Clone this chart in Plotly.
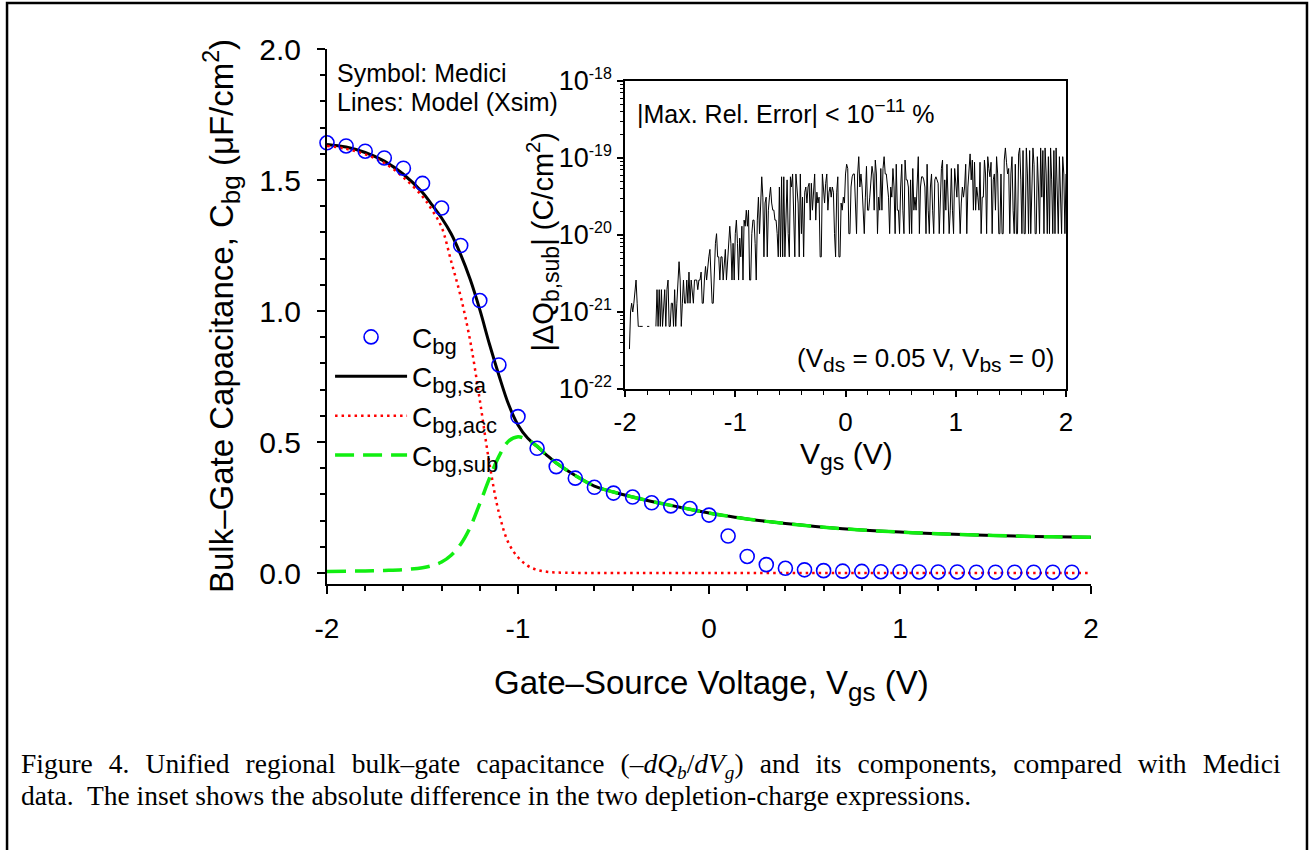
import numpy as np
import plotly.graph_objects as go

# ---------------- main plot data ----------------
vgs_medici = [-2.0, -1.9, -1.8, -1.7, -1.6, -1.5, -1.4, -1.3, -1.2, -1.1,
              -1.0, -0.9, -0.8, -0.7, -0.6, -0.5, -0.4, -0.3, -0.2, -0.1,
              0.0, 0.1, 0.2, 0.3, 0.4, 0.5, 0.6, 0.7, 0.8, 0.9,
              1.0, 1.1, 1.2, 1.3, 1.4, 1.5, 1.6, 1.7, 1.8, 1.9]
cbg_medici = [1.642, 1.630, 1.610, 1.584, 1.545, 1.487, 1.393, 1.250, 1.040, 0.794,
              0.597, 0.476, 0.406, 0.362, 0.327, 0.305, 0.290, 0.268, 0.256, 0.246,
              0.221, 0.141, 0.063, 0.032, 0.018, 0.012, 0.009, 0.007, 0.006, 0.005,
              0.005, 0.004, 0.004, 0.004, 0.003, 0.003, 0.003, 0.003, 0.003, 0.003]

vgs_sa = [-2.0, -1.9, -1.8, -1.7, -1.6, -1.5, -1.45, -1.4, -1.35, -1.3, -1.25, -1.2,
          -1.15, -1.1, -1.05, -1.0, -0.95, -0.9, -0.85, -0.8, -0.7, -0.6, -0.5, -0.4,
          -0.3, -0.2, -0.1, 0.0, 0.1, 0.2, 0.3, 0.4, 0.6, 0.8, 1.0, 1.2, 1.4, 1.6, 1.8, 2.0]
cbg_sa = [1.636, 1.626, 1.605, 1.572, 1.522, 1.452, 1.405, 1.355, 1.295, 1.215, 1.120, 1.005,
          0.875, 0.755, 0.645, 0.565, 0.515, 0.483, 0.450, 0.420, 0.372, 0.332, 0.309, 0.290,
          0.273, 0.258, 0.243, 0.229, 0.217, 0.206, 0.197, 0.189, 0.175, 0.164, 0.156, 0.150,
          0.145, 0.141, 0.138, 0.136]

vgs_acc = [-2.0, -1.9, -1.8, -1.7, -1.6, -1.5, -1.45, -1.4, -1.35, -1.3, -1.25, -1.2,
           -1.15, -1.1, -1.05, -1.0, -0.95, -0.9, -0.85, -0.8, -0.7, -0.5, 0.0, 1.0, 2.0]
cbg_acc = [1.630, 1.619, 1.598, 1.565, 1.510, 1.437, 1.385, 1.320, 1.190, 1.055, 0.885, 0.660,
           0.420, 0.230, 0.115, 0.060, 0.028, 0.012, 0.005, 0.002, 0.0005, 0.0, 0.0, 0.0, 0.0]

vgs_sub = [-2.0, -1.9, -1.8, -1.7, -1.6, -1.5, -1.45, -1.4, -1.35, -1.3, -1.25, -1.2,
           -1.15, -1.1, -1.05, -1.0, -0.95, -0.9, -0.85, -0.8, -0.7, -0.6, -0.5, -0.4,
           -0.3, -0.2, -0.1, 0.0, 0.1, 0.2, 0.3, 0.4, 0.6, 0.8, 1.0, 1.2, 1.4, 1.6, 1.8, 2.0]
cbg_sub = [0.006, 0.007, 0.008, 0.010, 0.013, 0.020, 0.028, 0.042, 0.068, 0.110, 0.175, 0.265,
           0.360, 0.445, 0.503, 0.520, 0.508, 0.484, 0.450, 0.420, 0.372, 0.332, 0.309, 0.290,
           0.273, 0.258, 0.243, 0.229, 0.217, 0.206, 0.197, 0.189, 0.175, 0.164, 0.156, 0.150,
           0.145, 0.141, 0.138, 0.136]

# ---------------- inset data (|dQb,sub|, C/cm^2), Vgs = -2.00 ... 2.00 step 0.01 ----------------
vgs_inset = np.round(np.linspace(-2.0, 2.0, 401), 2)
dq_sub = [
    None, None, None, None, 3.3e-22, 1.0e-21, 1.3e-21, 1.0e-21, 1.3e-21, 1.95e-21,      # -2.00
    2.6e-21, 1.3e-21, 6.5e-22, 6.5e-22, 6.5e-22, 6.5e-22, 6.5e-22, None, None, None,     # -1.90
    6.5e-22, 6.5e-22, 6.5e-22, None, None, None, None, None, 6.5e-22, 1.95e-21,         # -1.80
    6.5e-22, 1.95e-21, 6.5e-22, 1.95e-21, 6.5e-22, 1.3e-21, 1.95e-21, 6.5e-22, 1.95e-21, 2.6e-21,  # -1.70
    6.5e-22, 6.5e-22, 1.3e-21, 1.3e-21, 6.5e-22, 1.95e-21, 6.5e-22, 1.3e-21, 3.3e-21, 4.5e-21,     # -1.60
    2.6e-21, 6.5e-22, 1.3e-21, 2.6e-21, 1.3e-21, 1.3e-21, 2.6e-21, 1.3e-21, 3.3e-21, 1.3e-21,      # -1.50
    2.6e-21, 1.95e-21, 1.3e-21, 2.6e-21, 2.6e-21, 2.6e-21, 1.95e-21, 2.6e-21, 2.6e-21, 3.3e-21,    # -1.40
    1.3e-21, 1.3e-21, 2.6e-21, 3.9e-21, 2.6e-21, 3.9e-21, 5.2e-21, 6.5e-21, 2.6e-21, 1.3e-21,      # -1.30
    1.3e-21, 3.9e-21, 7.8e-21, 1.04e-20, 5.2e-21, 5.2e-21, 2.6e-21, 5.2e-21, 5.2e-21, 2.6e-21,     # -1.20
    5.2e-21, 6.5e-21, 2.6e-21, 5.2e-21, 1.04e-20, 1.3e-20, 7.8e-21, 2.6e-21, 7.8e-21, 2.6e-21,     # -1.10
    1.04e-20, 1.56e-20, 7.8e-21, 2.6e-21, 9.1e-21, 5.2e-21, 1.3e-20, 2.6e-21, 1.56e-20, 1.3e-20,   # -1.00
    2.1e-20, 1.3e-20, 2.1e-20, 2.6e-21, 2.6e-21, 1.04e-20, 1.56e-20, 1.56e-20, 7.8e-21, 2.6e-21,   # -0.90
    1.56e-20, 3.1e-20, 1.04e-20, 2.1e-20, 5.7e-20, 3.1e-20, 5.2e-21, 2.6e-20, 3.1e-20, 5.2e-21,    # -0.80
    2.1e-20, 3.1e-20, 4.2e-20, 2.6e-20, 2.1e-20, 2.1e-20, 1.56e-20, 1.56e-20, 1.04e-20, 5.2e-21,   # -0.70
    4.2e-20, 5.2e-21, 5.7e-20, 5.2e-21, 5.7e-20, 5.2e-21, 1.3e-20, 5.2e-20, 1.04e-20, 5.2e-21,     # -0.60
    5.7e-20, 4.2e-20, 6.2e-20, 1.56e-20, 5.2e-21, 6.2e-20, 4.2e-20, 2.6e-20, 5.2e-21, 6.2e-20,     # -0.50
    1.04e-20, 3.1e-20, 5.2e-21, 3.6e-20, 4.2e-20, 2.6e-20, 4.2e-20, 4.7e-20, 1.56e-20, 4.7e-20,    # -0.40
    2.1e-20, 3.6e-20, 6.2e-20, 1.56e-20, 3.6e-20, 2.6e-20, 3.1e-20, 5.2e-21, 5.2e-21, 6.2e-20,     # -0.30
    4.2e-20, 2.6e-20, 4.7e-20, 6.2e-20, 2.1e-20, 3.6e-20, 4.2e-20, 3.1e-20, 4.2e-20, 3.6e-20,      # -0.20
    1.04e-20, 5.2e-21, 3.6e-20, 5.7e-20, 5.2e-21, 5.2e-21, 2.6e-20, 2.1e-20, 3.1e-20, 2.6e-20,     # -0.10
    6.2e-20, 8.3e-20, 7.3e-20, 1.04e-20, 1.04e-20, 4.2e-20, 5.7e-20, 6.2e-20, 6.2e-20, 2.1e-20,    # 0.00
    1.04e-20, 6.2e-20, 1.04e-19, 4.2e-20, 6.2e-20, 4.2e-20, 2.1e-20, 1.04e-20, 3.1e-20, 7.8e-20,   # 0.10
    2.1e-20, 2.1e-20, 3.1e-20, 6.2e-20, 7.8e-20, 6.2e-20, 2.1e-20, 9.4e-20, 6.2e-20, 1.04e-20,     # 0.20
    3.1e-20, 2.1e-20, 7.3e-20, 2.1e-20, 7.3e-20, 1.04e-19, 6.2e-20, 6.2e-20, 4.2e-20, 3.1e-20,     # 0.30
    1.04e-20, 4.2e-20, 3.1e-20, 7.3e-20, 4.2e-20, 1.04e-20, 8.3e-20, 2.1e-20, 2.1e-20, 1.04e-20,   # 0.40
    4.2e-20, 8.3e-20, 2.1e-20, 1.04e-20, 9.4e-20, 5.2e-20, 5.2e-20, 4.2e-20, 1.04e-20, 5.2e-20,    # 0.50
    1.04e-20, 7.3e-20, 2.1e-20, 3.1e-20, 2.1e-20, 4.2e-20, 1.04e-19, 1.04e-20, 4.2e-20, 5.7e-20,   # 0.60
    5.7e-20, 5.2e-20, 4.2e-20, 1.04e-20, 8.3e-20, 2.1e-20, 1.04e-20, 4.2e-20, 6.2e-20, 2.1e-20,    # 0.70
    1.04e-20, 5.2e-20, 5.7e-20, 5.2e-20, 4.7e-20, 1.04e-20, 4.2e-20, 7.3e-20, 9.4e-20, 1.04e-20,   # 0.80
    5.2e-20, 2.1e-20, 8.3e-20, 3.1e-20, 1.04e-20, 2.1e-20, 7.3e-20, 2.1e-20, 1.04e-20, 7.3e-20,    # 0.90
    4.2e-20, 3.1e-20, 8.3e-20, 2.1e-20, 1.04e-20, 2.6e-20, 4.2e-20, 3.1e-20, 4.2e-20, 8.3e-20,     # 1.00
    1.04e-20, 4.2e-20, 7.8e-20, 1.13e-19, 5.2e-20, 9.4e-20, 2.1e-20, 8.8e-20, 2.1e-20, 4.2e-20,    # 1.10
    3.1e-20, 2.1e-20, 8.8e-20, 1.04e-20, 3.1e-20, 3.1e-20, 9.4e-20, 6.2e-20, 1.04e-20, 1.04e-19,   # 1.20
    7.3e-20, 5.7e-20, 8.8e-20, 1.04e-20, 5.2e-20, 6.2e-20, 2.1e-20, 1.04e-19, 6.2e-20, 1.04e-20,   # 1.30
    1.04e-20, 6.2e-20, 1.04e-20, 1.04e-20, 9.4e-20, 1.35e-19, 8.8e-20, 6.2e-20, 7.3e-20, 1.04e-20, # 1.40
    6.2e-20, 1.04e-19, 2.1e-20, 1.04e-20, 8.3e-20, 1.04e-20, 1.04e-20, 1.13e-19, 1.35e-19, 5.2e-20,# 1.50
    1.04e-20, 1.25e-19, 1.04e-20, 1.04e-20, 1.35e-19, 6.2e-20, 1.04e-20, 1.25e-19, 1.04e-20, 5.2e-20,  # 1.60
    1.35e-19, 8.3e-20, 1.04e-20, 1.04e-20, 1.04e-19, 4.2e-20, 1.04e-20, 1.35e-19, 3.1e-20, 1.25e-19,  # 1.70
    1.04e-20, 1.35e-19, 6.2e-20, 1.04e-20, 1.04e-19, 1.04e-20, 1.35e-19, 5.2e-20, 1.04e-20, 1.25e-19,  # 1.80
    1.04e-20, 1.35e-19, 2.1e-20, 1.04e-20, 1.04e-19, 4.2e-20, 1.04e-20, 1.04e-19, 6.2e-20, 1.04e-20,   # 1.90
    6.2e-20,                                                                                           # 2.00
]
n = min(len(vgs_inset), len(dq_sub))
vgs_inset = list(vgs_inset[:n])
dq_sub = dq_sub[:n]

main_xticks = [-2, -1, 0, 1, 2]
main_xticktext = ["-2", "-1", "0", "1", "2"]
main_yticks = [0, 0.5, 1.0, 1.5, 2.0]
main_yticktext = ["0.0", "0.5", "1.0", "1.5", "2.0"]
inset_yticks = [1e-22, 1e-21, 1e-20, 1e-19, 1e-18]
inset_exps = ["-22", "-21", "-20", "-19", "-18"]
inset_yticktext = ["10<sup><span style='font-size:16px'>%s</span></sup>" % e for e in inset_exps]

FONT = "Arial, Liberation Sans, sans-serif"


def sub(t, px):
    return "<sub><span style='font-size:%dpx'>%s</span></sub>" % (px, t)


fig = go.Figure()

fig.add_trace(go.Scatter(x=vgs_sa, y=cbg_sa, mode="lines", line_shape="spline",
                         line=dict(color="black", width=3),
                         name="C" + sub("bg,sa", 22), legendrank=2))
fig.add_trace(go.Scatter(x=vgs_acc, y=cbg_acc, mode="lines", line_shape="spline",
                         line=dict(color="#ff0000", width=2.5, dash="2.5px,4px"),
                         name="C" + sub("bg,acc", 22), legendrank=3))
fig.add_trace(go.Scatter(x=vgs_sub, y=cbg_sub, mode="lines", line_shape="spline",
                         line=dict(color="#11ee11", width=3.5, dash="19px,9px"),
                         name="C" + sub("bg,sub", 22), legendrank=4))
fig.add_trace(go.Scatter(x=vgs_medici, y=cbg_medici, mode="markers", cliponaxis=False,
                         marker=dict(symbol="circle-open", size=14, color="#0000ff",
                                     line=dict(width=1.6, color="#0000ff")),
                         name="C" + sub("bg", 22), legendrank=1))

fig.add_trace(go.Scatter(x=vgs_inset, y=dq_sub, mode="lines", xaxis="x2", yaxis="y2",
                         line=dict(color="black", width=1), connectgaps=False,
                         showlegend=False))

# minor tick positions (axis decoration)
main_xminor = [round(-2 + 0.2 * i, 1) for i in range(21) if (i % 5) != 0]
main_yminor = [round(0.1 * i, 1) for i in range(21) if (i % 5) != 0]
inset_yminor = [k * 10.0 ** e for e in range(-22, -18) for k in range(2, 10)]

fig.update_layout(
    width=1312, height=850,
    margin=dict(l=327, r=221, t=49, b=266, autoexpand=False),
    paper_bgcolor="white", plot_bgcolor="white",
    font=dict(family=FONT, color="black"),
    showlegend=True,
    legend=dict(x=0.004, y=0.508, xanchor="left", yanchor="top",
                bgcolor="rgba(0,0,0,0)", font=dict(size=28, family=FONT),
                itemwidth=72, tracegroupgap=0),
    xaxis=dict(domain=[0, 1], range=[-2, 2], showgrid=False, zeroline=False,
               showline=True, linecolor="black", linewidth=2, mirror=False,
               ticks="outside", ticklen=8, tickwidth=2, tickcolor="black",
               tickmode="array", tickvals=main_xticks, ticktext=main_xticktext,
               tickfont=dict(size=28, family=FONT), ticklabelstandoff=10,
               minor=dict(tickmode="array", tickvals=main_xminor, ticks="outside",
                          ticklen=5, tickwidth=1.5, tickcolor="black", showgrid=False)),
    yaxis=dict(domain=[0, 1], range=[-0.042, 2.0], showgrid=False, zeroline=False,
               showline=True, linecolor="black", linewidth=2, mirror=False,
               ticks="outside", ticklen=8, tickwidth=2, tickcolor="black",
               tickmode="array", tickvals=main_yticks, ticktext=main_yticktext,
               tickfont=dict(size=30, family=FONT), ticklabelstandoff=10,
               minor=dict(tickmode="array", tickvals=main_yminor, ticks="outside",
                          ticklen=5, tickwidth=1.5, tickcolor="black", showgrid=False)),
    xaxis2=dict(domain=[0.3901, 0.9673], anchor="y2", range=[-2, 2], showgrid=False,
                zeroline=False, showline=True, linecolor="black", linewidth=1.5, mirror=True,
                ticks="outside", ticklen=6, tickwidth=1.5, tickcolor="black",
                tickmode="array", tickvals=main_xticks, ticktext=main_xticktext,
                tickfont=dict(size=26, family=FONT), ticklabelstandoff=3,
                minor=dict(tickmode="array", tickvals=main_xminor, ticks="outside",
                           ticklen=4, tickwidth=1, tickcolor="black", showgrid=False)),
    yaxis2=dict(domain=[0.3645, 0.9402], anchor="x2", type="log", range=[-22, -18],
                showgrid=False, zeroline=False, showline=True, linecolor="black",
                linewidth=1.5, mirror=True,
                ticks="outside", ticklen=6, tickwidth=1.5, tickcolor="black",
                tickmode="array", tickvals=inset_yticks, ticktext=inset_yticktext,
                tickfont=dict(size=27, family=FONT),
                minor=dict(tickmode="array", tickvals=inset_yminor, ticks="outside",
                           ticklen=3.5, tickwidth=1, tickcolor="black", showgrid=False)),
)

annots = [
    dict(text="Symbol: Medici", x=0.0105, y=0.9551, xanchor="left", yanchor="middle", size=25),
    dict(text="Lines: Model (Xsim)", x=0.0105, y=0.9009, xanchor="left", yanchor="middle", size=25),
    dict(text="|Max. Rel. Error| &lt; 10<sup><span style='font-size:19px'>\u221211</span></sup> %",
         x=0.4031, y=0.8841, xanchor="left", yanchor="middle", size=25),
    dict(text="(V" + sub("ds", 21) + " = 0.05 V, V" + sub("bs", 21) + " = 0)", x=0.9542, y=0.4187,
         xanchor="right", yanchor="middle", size=26),
    dict(text="V" + sub("gs", 23) + " (V)", x=0.6806, y=0.2393, xanchor="center",
         yanchor="middle", size=30),
    dict(text="|\u0394Q" + sub("b,sub", 23) + "| (C/cm<sup>2</sup>)", x=0.2827, y=0.640,
         xanchor="center", yanchor="middle", size=29, angle=-90),
    dict(text="Bulk\u2013Gate Capacitance, C" + sub("bg", 26) + " (\u03bcF/cm<sup>2</sup>)",
         x=-0.1374, y=0.5009, xanchor="center", yanchor="middle", size=33, angle=-90),
    dict(text="Gate\u2013Source Voltage, V" + sub("gs", 26) + " (V)", x=0.5039, y=-0.1888,
         xanchor="center", yanchor="middle", size=33),
]
for a in annots:
    fig.add_annotation(text=a["text"], x=a["x"], y=a["y"], xref="paper", yref="paper",
                       xanchor=a["xanchor"], yanchor=a["yanchor"], showarrow=False,
                       textangle=a.get("angle", 0),
                       font=dict(size=a["size"], family=FONT, color="black"))

SERIF = "Liberation Serif, Times New Roman, serif"
GAP = " \u00a0\u200a"  # widened word gap to mimic the justified first line
words1 = ["Figure", "4.", "Unified", "regional", "bulk\u2013gate", "capacitance",
          "(\u2013<i>dQ<sub>b</sub></i>/<i>dV<sub>g</sub></i>)", "and", "its", "components,",
          "compared", "with", "Medici"]
caption1 = GAP.join(words1)
caption2 = "data.\u00a0 The inset shows the absolute difference in the two depletion-charge expressions."
fig.add_annotation(text=caption1, x=-0.4031, y=-0.340, xref="paper", yref="paper",
                   xanchor="left", yanchor="middle", showarrow=False,
                   font=dict(size=27.5, family=SERIF, color="black"))
fig.add_annotation(text=caption2, x=-0.4031, y=-0.3944, xref="paper", yref="paper",
                   xanchor="left", yanchor="middle", showarrow=False,
                   font=dict(size=27.5, family=SERIF, color="black"))

# outer frame
fig.add_shape(type="rect", xref="paper", yref="paper", x0=-0.4188, x1=1.2827,
              y0=-0.62, y1=1.086, line=dict(color="black", width=2.5),
              fillcolor="rgba(0,0,0,0)", layer="above")

fig.write_html("out.html")
